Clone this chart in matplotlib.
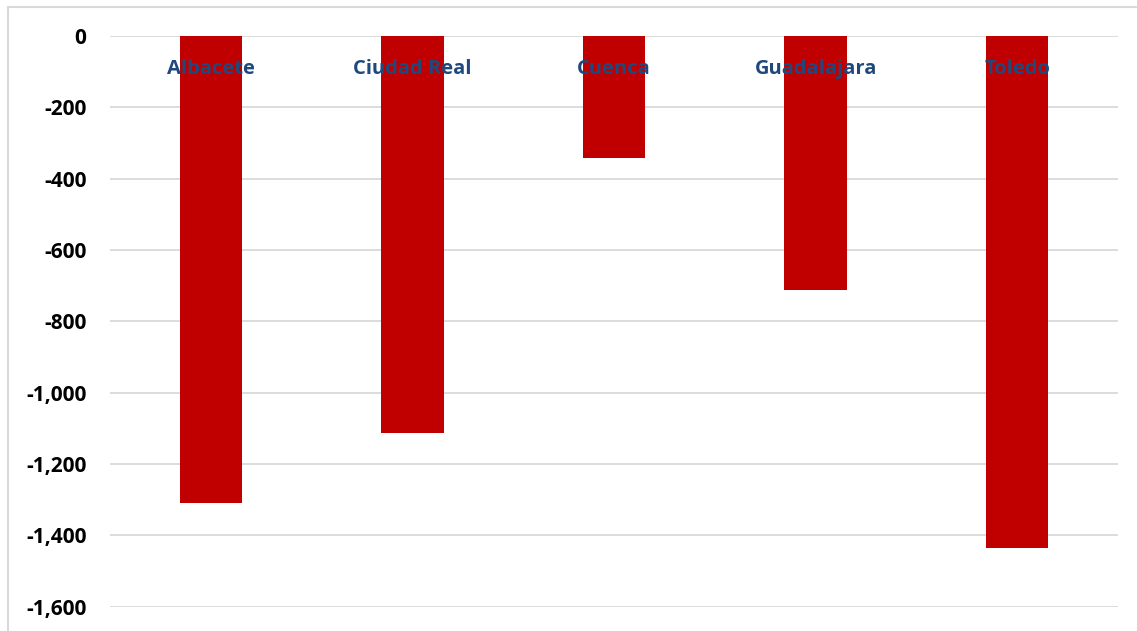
import matplotlib
matplotlib.use("Agg")
import matplotlib.pyplot as plt
from matplotlib.patches import Rectangle
from matplotlib.ticker import FuncFormatter
from matplotlib.transforms import blended_transform_factory

categories = ["Albacete", "Ciudad Real", "Cuenca", "Guadalajara", "Toledo"]
values = [-1310, -1114, -341, -713, -1437]
y_ticks = [0, -200, -400, -600, -800, -1000, -1200, -1400, -1600]

plt.rcParams['font.family'] = ['Open Sans', 'DejaVu Sans']

fig = plt.figure(figsize=(11.37, 6.31), dpi=100)
ax = fig.add_axes([110/1137, 1-606.5/631, (1118-110)/1137, (606.5-36)/631])

x = list(range(len(categories)))
ax.bar(x, values, width=0.31, color="#C00000", zorder=2)

ax.set_xlim(-0.5, len(categories) - 0.5)
ax.set_ylim(min(y_ticks), max(y_ticks))
ax.set_yticks(y_ticks)
ax.yaxis.set_major_formatter(FuncFormatter(lambda v, p: f"{int(v):,}"))
ax.grid(axis="y", color="#D9D9D9", linewidth=1.3, zorder=0)
ax.set_axisbelow(True)
ax.set_xticks([])
for s in ax.spines.values():
    s.set_visible(False)
ax.tick_params(axis="y", length=0, pad=17, labelsize=15)
for lab in ax.get_yticklabels():
    lab.set_fontweight("bold")
    lab.set_color("black")

trans = blended_transform_factory(ax.transData, ax.transAxes)
for xi, name in zip(x, categories):
    ax.text(xi, 1 - 33/570.5, name, transform=trans, ha="center", va="center",
            fontsize=14.5, fontweight="bold", color="#1F497D", zorder=3)

fig.patches.append(Rectangle((8/1137, -0.1), 1.2, 1 - 7/631 + 0.1,
                             transform=fig.transFigure, fill=False,
                             edgecolor="#D9D9D9", linewidth=1.5))

fig.savefig("out.png", dpi=100)
